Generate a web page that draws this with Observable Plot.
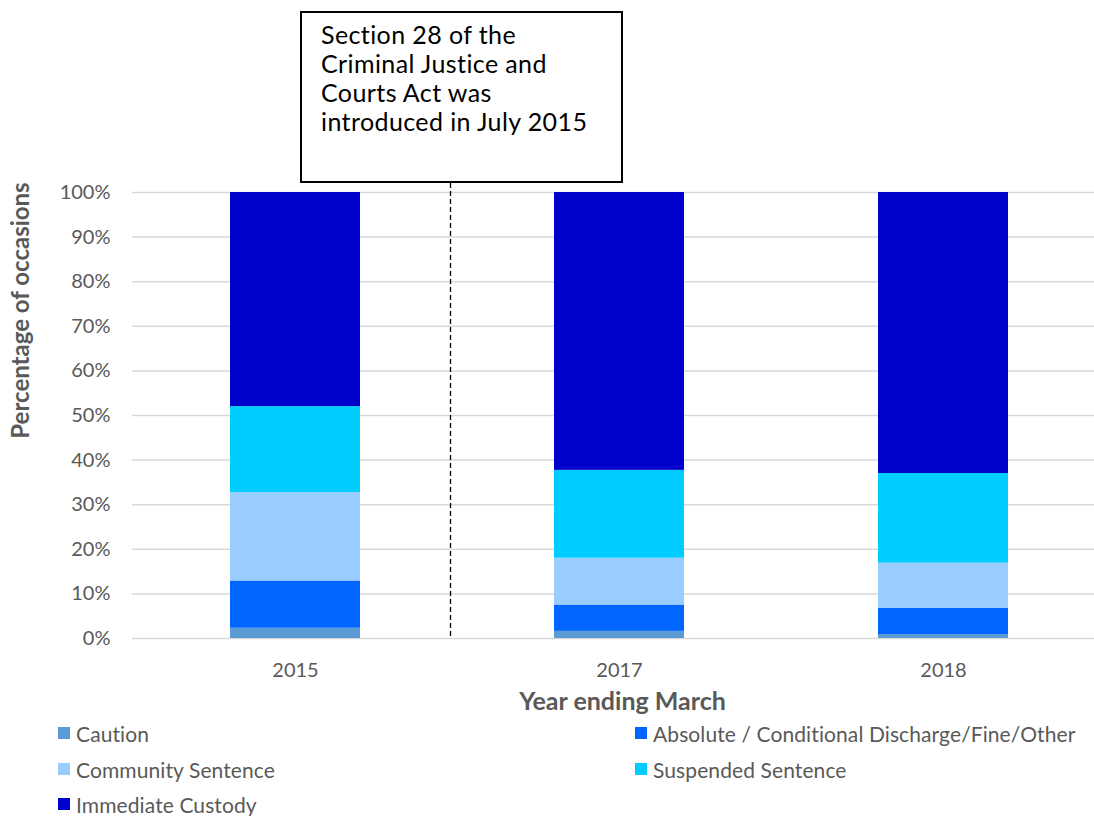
<!DOCTYPE html>
<html>
<head>
<meta charset="utf-8">
<script src="https://cdn.jsdelivr.net/npm/d3@7"></script>
<script src="https://cdn.jsdelivr.net/npm/@observablehq/plot@0.6"></script>
<style>
  html, body { margin: 0; padding: 0; background: #fff; }
  #wrap { position: relative; width: 1094px; height: 816px; font-family: Lato, "Open Sans", sans-serif; overflow: hidden; }
  #note { position: absolute; left: 300px; top: 11px; width: 323px; height: 172px; box-sizing: border-box;
          border: 2.5px solid #000; background: #fff; padding: 7px 0 0 19px; font-size: 25px; line-height: 29px; color: #000; letter-spacing: 0.4px; }
  .leg { position: absolute; display: flex; align-items: center; font-size: 21px; color: #595959; white-space: nowrap; letter-spacing: 0.1px; }
  .leg .sw { width: 12px; height: 12px; margin-right: 6px; }
</style>
</head>
<body>
<div id="wrap"></div>
<script>
const years = ["2015", "2017", "2018"];
const categories = ["Caution", "Absolute / Conditional Discharge/Fine/Other", "Community Sentence", "Suspended Sentence", "Immediate Custody"];
const colors = ["#5b9bd5", "#0066ff", "#99ccff", "#00ccff", "#0000cc"];
const caution = [2.3, 1.6, 0.9];
const absolute = [10.6, 5.9, 5.9];
const community = [19.8, 10.5, 10.1];
const suspended = [19.3, 19.7, 20.1];
const custody = [48.0, 62.3, 63.0];
const yTicks = [0, 10, 20, 30, 40, 50, 60, 70, 80, 90, 100];
const noteLines = ["Section 28 of the", "Criminal Justice and", "Courts Act was", "introduced  in July 2015"];
const yTitle = "Percentage of occasions";
const xTitle = "Year ending March";

const series = [caution, absolute, community, suspended, custody];
const rows = [];
years.forEach((yr, i) => {
  categories.forEach((c, j) => rows.push({year: yr, category: c, value: series[j][i]}));
});

const chart = Plot.plot({
  width: 1094,
  height: 718,
  marginLeft: 132,
  marginRight: 0,
  marginTop: 192,
  marginBottom: 80,
  style: {fontFamily: "Lato, 'Open Sans', sans-serif", background: "#fff"},
  x: {domain: years, range: [132, 1105], paddingInner: 0.6, paddingOuter: 0.3, label: null},
  y: {domain: [0, 100], label: null},
  color: {domain: categories, range: colors},
  marks: [
    Plot.ruleY(yTicks, {stroke: "#d9d9d9", strokeWidth: 1.5}),
    Plot.barY(rows, {x: "year", y: "value", fill: "category", z: "category", order: categories}),
    Plot.ruleX([years[0]], {dx: 155, stroke: "#000", strokeWidth: 1.3, strokeDasharray: "5,3", insetTop: -9}),
    Plot.axisY(yTicks, {tickSize: 0, tickPadding: 22, tickFormat: d => d + "%", fontSize: 20, fill: "#595959", label: null}),
    Plot.axisX({tickSize: 0, tickPadding: 24, fontSize: 20, fill: "#595959", label: null}),
    Plot.text([yTitle], {frameAnchor: "left", textAnchor: "middle", rotate: -90, dx: -111, dy: -105, fontSize: 24, fontWeight: "bold", fill: "#595959"}),
    Plot.text([xTitle], {frameAnchor: "bottom", textAnchor: "middle", lineAnchor: "middle", dy: 63, dx: 9, fontSize: 25, fontWeight: "bold", fill: "#595959"})
  ]
});

const wrap = document.getElementById("wrap");
wrap.appendChild(chart);

const note = document.createElement("div");
note.id = "note";
note.innerHTML = noteLines.join("<br>");
wrap.appendChild(note);

const legPos = [[58, 733], [635, 733], [58, 769], [635, 769], [58, 804]];
categories.forEach((c, i) => {
  const d = document.createElement("div");
  d.className = "leg";
  d.style.left = legPos[i][0] + "px";
  d.style.top = (legPos[i][1] - 12) + "px";
  d.style.height = "24px";
  d.innerHTML = `<span class="sw" style="background:${colors[i]}"></span><span>${c}</span>`;
  wrap.appendChild(d);
});
</script>
</body>
</html>
